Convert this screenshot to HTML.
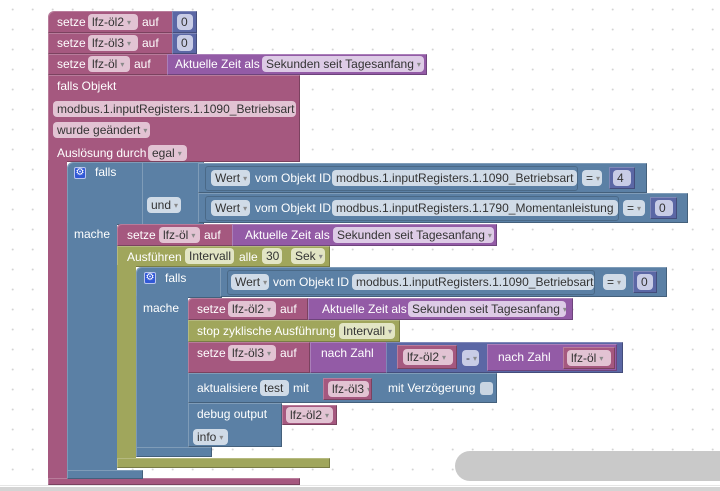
<!DOCTYPE html>
<html><head><meta charset="utf-8"><style>
html,body{margin:0;padding:0}
body{width:720px;height:491px;overflow:hidden;background:#fff;position:relative;font-family:"Liberation Sans",sans-serif}
.a{position:absolute;box-sizing:border-box}
.k{box-shadow:inset 1px 1px 0 rgba(255,255,255,.22),inset -1px -1px 0 rgba(0,0,0,.25)}
.t{position:absolute;font:12px/14px "Liberation Sans",sans-serif;color:#fff;white-space:nowrap}
.f{position:absolute;height:16px;font:12px/16px "Liberation Sans",sans-serif;color:#333;border-radius:4px;padding:0 4px;white-space:nowrap;box-sizing:border-box;overflow:hidden}
.f i{font-style:normal;font-size:8px;color:#8a8a8a;margin-left:3px;vertical-align:1px}
.M{background:#a5587f}.B{background:#5b80a5}.O{background:#a0a65c}.P{background:#935ba6}.N{background:#5b67a5}
.fm{background:#e2c3d3}.fb{background:#d0dbe7}.fo{background:#e2e5c4}.fp{background:#ddcbe6}.fn{background:#c8cce6}
.o{position:absolute;box-sizing:border-box;border:1px solid rgba(0,0,0,.18);border-radius:3px}
.g{position:absolute;width:12px;height:12px;background:#3158d6;border:1px solid #b8c4ee;border-radius:2px;box-sizing:border-box;color:#fff;font-size:10px;line-height:10px;text-align:center}
</style></head><body>
<svg class="a" style="left:0;top:0" width="720" height="491">
<defs><pattern id="d" x="2.7" y="-0.5" width="20" height="20" patternUnits="userSpaceOnUse"><circle cx="10" cy="10" r="1" fill="#d2d2d2"/></pattern></defs>
<rect width="720" height="491" fill="url(#d)"/>
</svg>

<!-- magenta top stack -->
<div class="a k M" style="left:48px;top:11px;width:126px;height:22px;border-top-left-radius:6px"></div>
<div class="a k M" style="left:48px;top:33px;width:126px;height:21px"></div>
<div class="a k M" style="left:48px;top:54px;width:121px;height:21px"></div>
<div class="a k N" style="left:172px;top:11px;width:25px;height:22px"></div>
<div class="a k N" style="left:172px;top:33px;width:25px;height:21px"></div>
<div class="a k P" style="left:167px;top:54px;width:260px;height:21px"></div>
<div class="a k M" style="left:48px;top:75px;width:252px;height:87px"></div>
<div class="a M" style="left:48px;top:160px;width:19px;height:325px"></div>
<div class="a k M" style="left:48px;top:478px;width:252px;height:7px"></div>

<span class="t" style="left:57px;top:15px">setze</span><span class="f fm" style="left:88px;top:14px;width:50px">lfz-öl2<i>▾</i></span><span class="t" style="left:142px;top:15px">auf</span><span class="f fn" style="left:177px;top:14px;width:16px">0</span>
<span class="t" style="left:57px;top:36px">setze</span><span class="f fm" style="left:88px;top:35px;width:50px">lfz-öl3<i>▾</i></span><span class="t" style="left:142px;top:36px">auf</span><span class="f fn" style="left:177px;top:35px;width:16px">0</span>
<span class="t" style="left:57px;top:57px">setze</span><span class="f fm" style="left:88px;top:56px;width:42px">lfz-öl<i>▾</i></span><span class="t" style="left:134px;top:57px">auf</span>
<span class="t" style="left:175px;top:57px">Aktuelle Zeit als</span><span class="f fp" style="left:262px;top:56px;width:162px">Sekunden seit Tagesanfang<i>▾</i></span>
<span class="t" style="left:57px;top:79px">falls Objekt</span>
<span class="f fm" style="left:53px;top:101px;width:243px">modbus.1.inputRegisters.1.1090_Betriebsart</span>
<span class="f fm" style="left:53px;top:122px;width:97px">wurde geändert<i>▾</i></span>
<span class="t" style="left:57px;top:146px">Auslösung durch</span><span class="f fm" style="left:148px;top:145px;width:39px">egal<i>▾</i></span>

<!-- outer falls -->
<div class="a k B" style="left:67px;top:162px;width:76px;height:63px;border-top-left-radius:6px"></div>
<div class="a B" style="left:67px;top:223px;width:50px;height:249px;box-shadow:inset 1px 0 0 rgba(255,255,255,.2)"></div>
<div class="a k B" style="left:67px;top:470px;width:76px;height:9px"></div>
<div class="g" style="left:74px;top:167px">⚙</div>
<span class="t" style="left:95px;top:165px">falls</span>
<span class="t" style="left:74px;top:227px">mache</span>

<div class="a k B" style="left:142px;top:162px;width:62px;height:63px"></div>
<span class="f fb" style="left:147px;top:197px;width:34px">und<i>▾</i></span>

<div class="a k B" style="left:198px;top:163px;width:449px;height:30px"></div>
<div class="o" style="left:205px;top:166px;width:373px;height:25px"></div>
<span class="f fb" style="left:211px;top:170px;width:39px">Wert<i>▾</i></span><span class="t" style="left:255px;top:171px">vom Objekt ID</span>
<span class="f fb" style="left:332px;top:170px;width:245px">modbus.1.inputRegisters.1.1090_Betriebsart</span>
<span class="f fb" style="left:582px;top:170px;width:20px">=<i>▾</i></span>
<div class="a k N" style="left:609px;top:167px;width:26px;height:22px"></div><span class="f fn" style="left:613px;top:170px;width:18px">4</span>

<div class="a k B" style="left:198px;top:193px;width:490px;height:30px"></div>
<div class="o" style="left:205px;top:196px;width:414px;height:25px"></div>
<span class="f fb" style="left:211px;top:200px;width:39px">Wert<i>▾</i></span><span class="t" style="left:255px;top:201px">vom Objekt ID</span>
<span class="f fb" style="left:332px;top:200px;width:286px">modbus.1.inputRegisters.1.1790_Momentanleistung</span>
<span class="f fb" style="left:623px;top:200px;width:22px">=<i>▾</i></span>
<div class="a k N" style="left:650px;top:197px;width:27px;height:22px"></div><span class="f fn" style="left:655px;top:200px;width:18px">0</span>

<!-- setze lfz-öl -->
<div class="a k M" style="left:117px;top:224px;width:118px;height:22px;border-top-left-radius:4px"></div>
<div class="a k P" style="left:232px;top:224px;width:265px;height:22px"></div>
<span class="t" style="left:127px;top:228px">setze</span><span class="f fm" style="left:159px;top:227px;width:41px">lfz-öl<i>▾</i></span><span class="t" style="left:204px;top:228px">auf</span>
<span class="t" style="left:245px;top:228px">Aktuelle Zeit als</span><span class="f fp" style="left:333px;top:227px;width:161px">Sekunden seit Tagesanfang<i>▾</i></span>

<!-- olive -->
<div class="a k O" style="left:117px;top:246px;width:213px;height:21px"></div>
<div class="a O" style="left:117px;top:265px;width:19px;height:195px"></div>
<div class="a k O" style="left:117px;top:458px;width:213px;height:10px"></div>
<span class="t" style="left:127px;top:250px">Ausführen</span><span class="f fo" style="left:185px;top:248px;width:49px">Intervall</span>
<span class="t" style="left:239px;top:250px">alle</span><span class="f fo" style="left:262px;top:248px;width:20px">30</span><span class="f fo" style="left:291px;top:248px;width:34px">Sek<i>▾</i></span>

<!-- inner falls -->
<div class="a k B" style="left:136px;top:267px;width:86px;height:31px;border-top-left-radius:5px"></div>
<div class="a B" style="left:136px;top:296px;width:52px;height:153px;box-shadow:inset 1px 0 0 rgba(255,255,255,.2)"></div>
<div class="a k B" style="left:136px;top:447px;width:76px;height:10px"></div>
<div class="g" style="left:144px;top:272px">⚙</div>
<span class="t" style="left:165px;top:271px">falls</span>
<span class="t" style="left:143px;top:301px">mache</span>

<div class="a k B" style="left:220px;top:267px;width:447px;height:30px"></div>
<div class="o" style="left:227px;top:270px;width:368px;height:25px"></div>
<span class="f fb" style="left:231px;top:274px;width:38px">Wert<i>▾</i></span><span class="t" style="left:273px;top:275px">vom Objekt ID</span>
<span class="f fb" style="left:352px;top:274px;width:242px">modbus.1.inputRegisters.1.1090_Betriebsart</span>
<span class="f fb" style="left:603px;top:274px;width:23px">=<i>▾</i></span>
<div class="a k N" style="left:633px;top:271px;width:24px;height:22px"></div><span class="f fn" style="left:637px;top:274px;width:16px">0</span>

<!-- statements -->
<div class="a k M" style="left:188px;top:298px;width:120px;height:22px;border-top-left-radius:4px"></div>
<div class="a k P" style="left:308px;top:298px;width:265px;height:22px"></div>
<span class="t" style="left:197px;top:302px">setze</span><span class="f fm" style="left:228px;top:301px;width:48px">lfz-öl2<i>▾</i></span><span class="t" style="left:280px;top:302px">auf</span>
<span class="t" style="left:322px;top:302px">Aktuelle Zeit als</span><span class="f fp" style="left:408px;top:301px;width:158px">Sekunden seit Tagesanfang<i>▾</i></span>

<div class="a k O" style="left:188px;top:320px;width:212px;height:22px"></div>
<span class="t" style="left:197px;top:324px">stop zyklische Ausführung</span><span class="f fo" style="left:339px;top:323px;width:56px">Intervall<i>▾</i></span>

<div class="a k M" style="left:188px;top:342px;width:122px;height:31px"></div>
<span class="t" style="left:197px;top:346px">setze</span><span class="f fm" style="left:228px;top:345px;width:48px">lfz-öl3<i>▾</i></span><span class="t" style="left:280px;top:346px">auf</span>
<div class="a k P" style="left:310px;top:342px;width:77px;height:31px"></div>
<span class="t" style="left:321px;top:346px">nach Zahl</span>
<div class="a k N" style="left:386px;top:342px;width:237px;height:31px"></div>
<div class="a k M" style="left:397px;top:345px;width:60px;height:24px"></div>
<span class="f fm" style="left:403px;top:349px;width:50px">lfz-öl2<i>▾</i></span>
<span class="f fn" style="left:462px;top:350px;width:17px">-<i>▾</i></span>
<div class="a k P" style="left:487px;top:344px;width:130px;height:27px"></div>
<span class="t" style="left:498px;top:350px">nach Zahl</span>
<div class="a k M" style="left:563px;top:347px;width:52px;height:22px"></div>
<span class="f fm" style="left:567px;top:350px;width:44px">lfz-öl<i>▾</i></span>

<div class="a k B" style="left:188px;top:373px;width:309px;height:30px"></div>
<span class="t" style="left:197px;top:381px">aktualisiere</span><span class="f fb" style="left:260px;top:380px;width:29px">test</span><span class="t" style="left:293px;top:381px">mit</span>
<div class="a k M" style="left:323px;top:378px;width:49px;height:22px"></div>
<span class="f fm" style="left:328px;top:381px;width:41px">lfz-öl3<i>▾</i></span>
<span class="t" style="left:388px;top:381px">mit Verzögerung</span>
<div class="a" style="left:480px;top:382px;width:13px;height:13px;background:#c9d5e2;border-radius:3px"></div>

<div class="a k B" style="left:188px;top:403px;width:94px;height:44px"></div>
<span class="t" style="left:197px;top:407px">debug output</span>
<div class="a k M" style="left:282px;top:405px;width:55px;height:20px"></div>
<span class="f fm" style="left:286px;top:407px;width:47px">lfz-öl2<i>▾</i></span>
<span class="f fb" style="left:193px;top:429px;width:35px">info<i>▾</i></span>

<!-- scrollbars -->
<div class="a" style="left:455px;top:451px;width:290px;height:30px;background:#c9c9c9;border-radius:15px"></div>
<div class="a" style="left:0;top:485px;width:720px;height:1px;background:#e6e6e6"></div>
<div class="a" style="left:0;top:487px;width:720px;height:4px;background:#d4d4d4"></div>
</body></html>
